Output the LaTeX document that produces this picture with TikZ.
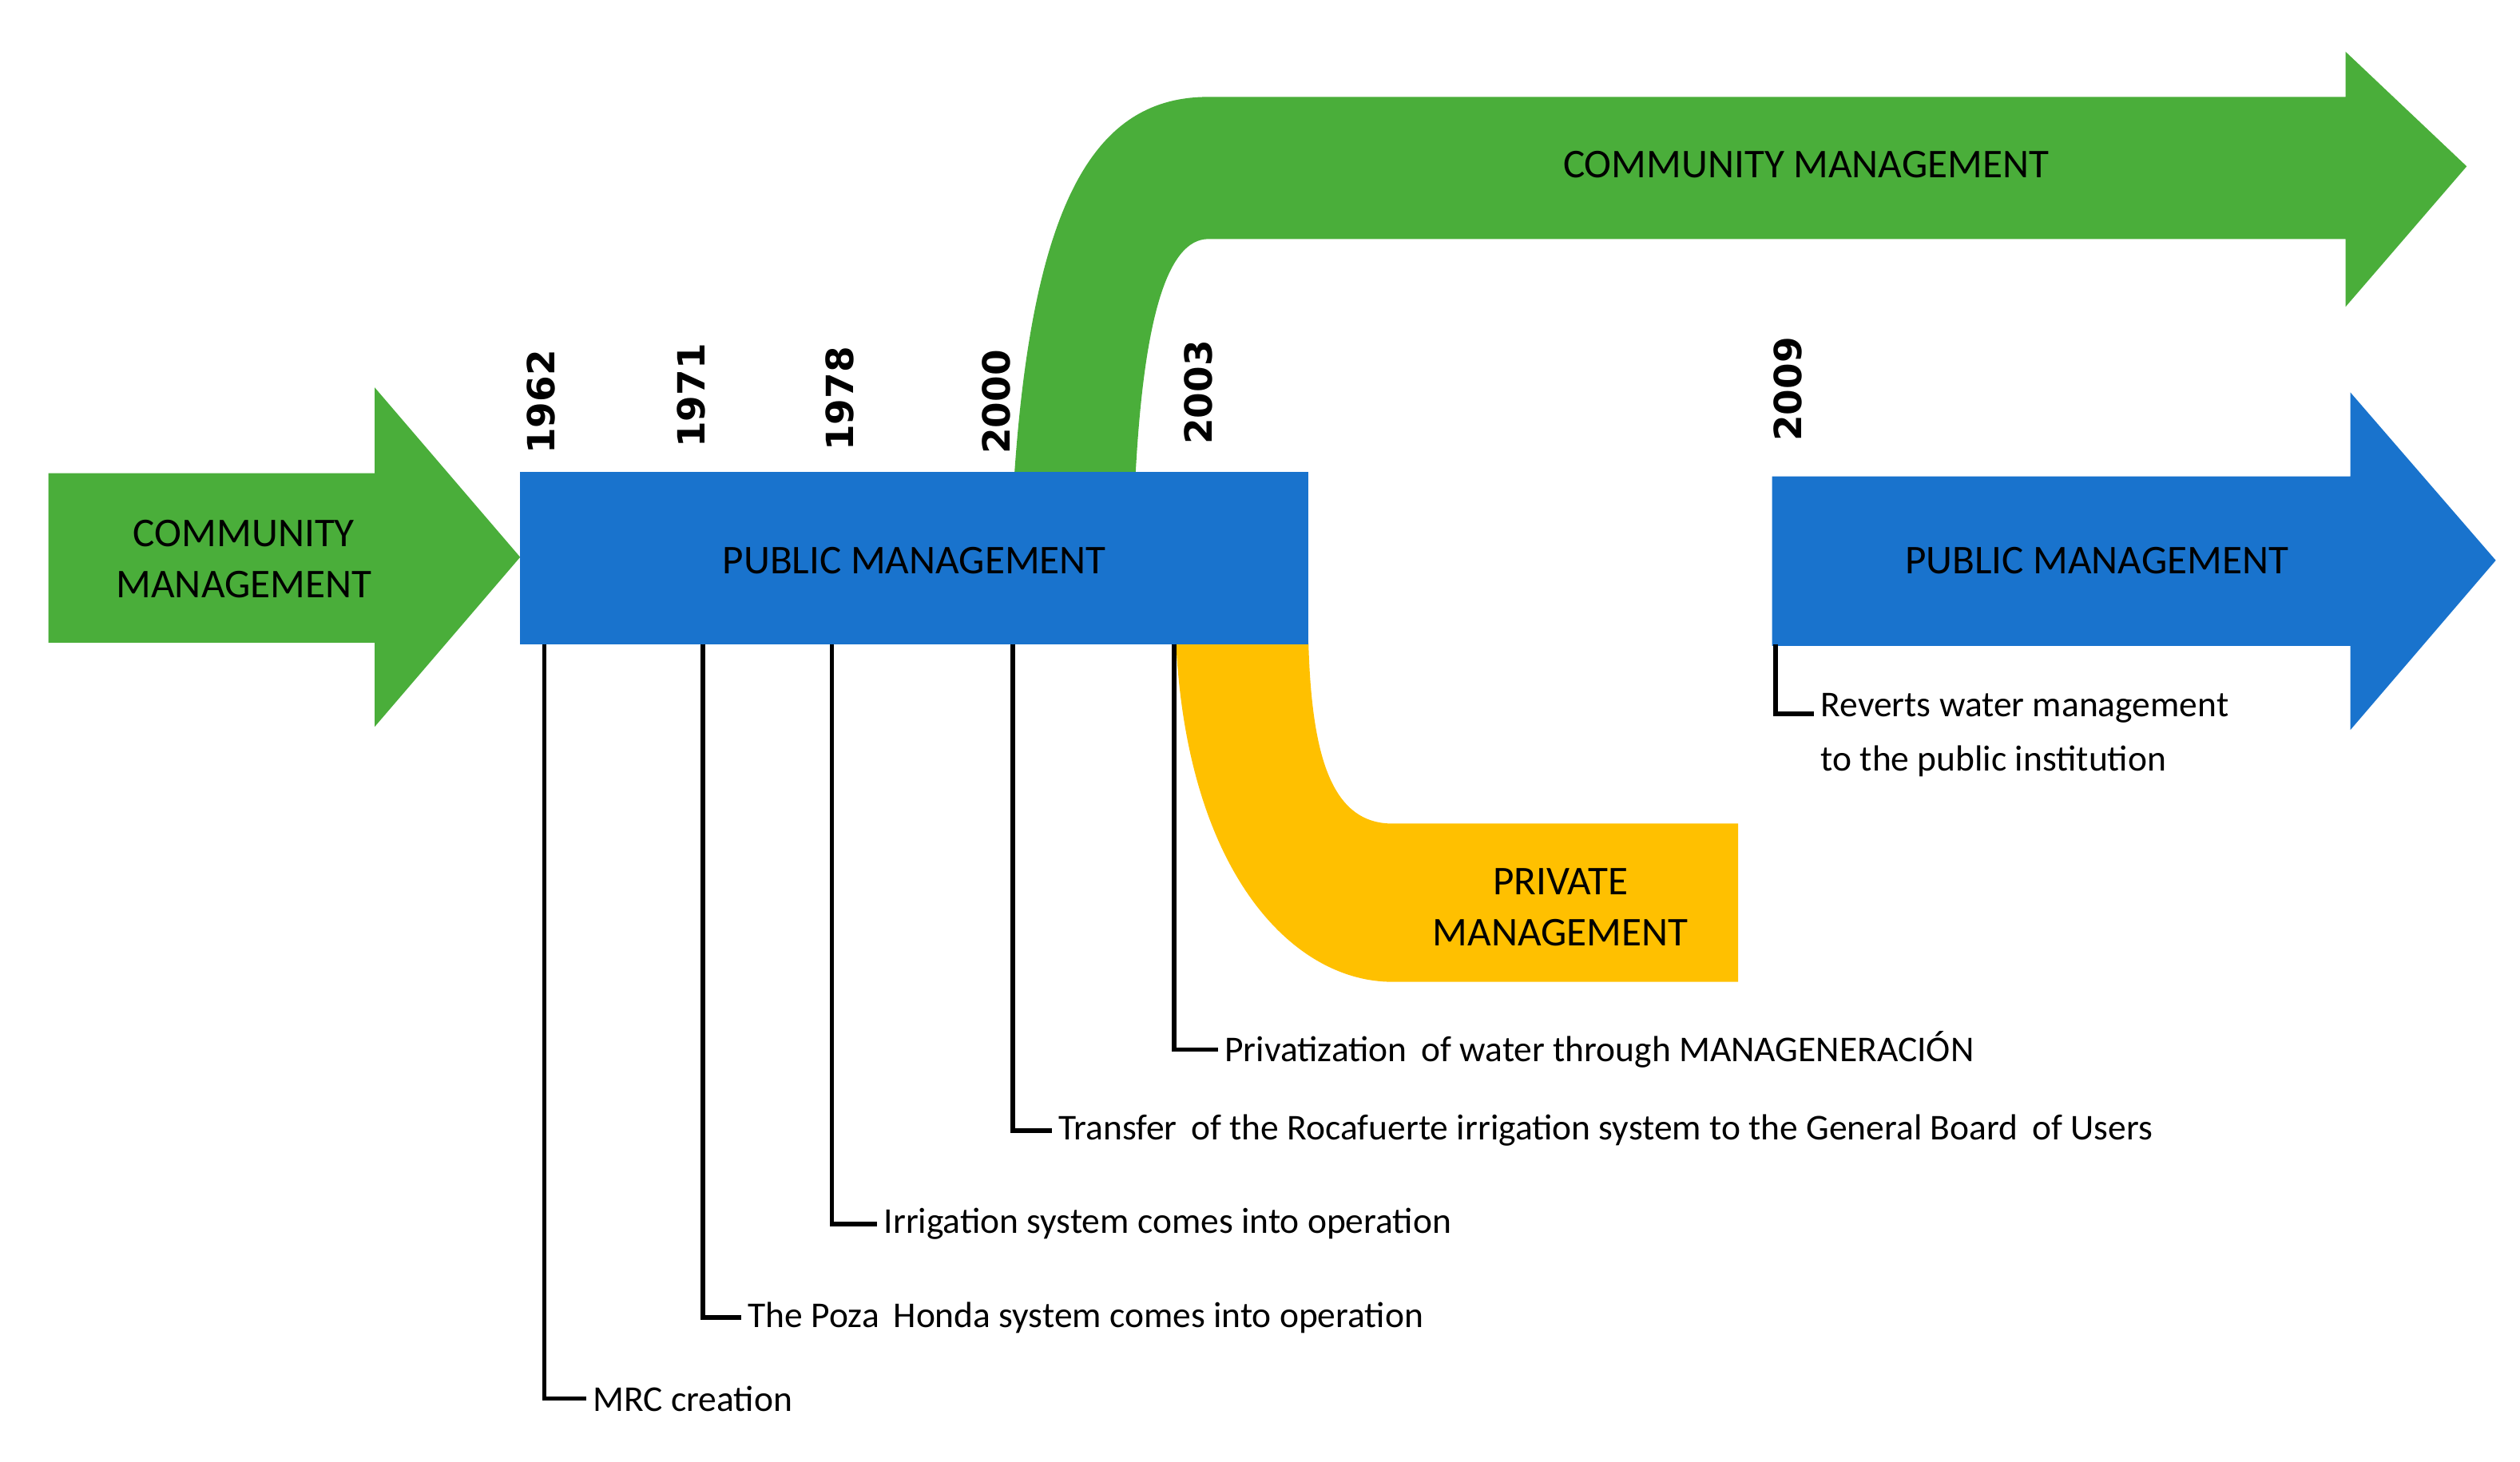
\documentclass[tikz,border=0pt]{standalone}
\usepackage{fontspec}
\setmainfont{Carlito}
\newfontfamily\yearfont{DejaVu Sans}
\definecolor{cgreen}{RGB}{74,174,58}
\definecolor{cblue}{RGB}{25,115,205}
\definecolor{cyellow}{RGB}{255,192,0}
\begin{document}
\begin{tikzpicture}[x=0.1mm,y=-0.1mm,
  boxtxt/.style={font=\fontsize{7.2}{9}\selectfont,align=center,text=black},
  lbl/.style={font=\fontsize{6.4}{9.6}\selectfont,anchor=west,inner sep=1pt,align=left},
  yr/.style={font=\yearfont\bfseries\fontsize{6.6}{8}\selectfont,rotate=90,anchor=west,inner sep=0pt},
  tick/.style={draw=black,line width=0.8pt}]
\useasboundingbox (0,0) rectangle (1560,905);
% left green arrow
\fill[cgreen] (30,293) -- (232,293) -- (232,240) -- (322,345) -- (232,450) -- (232,398) -- (30,398) -- cycle;
\node[boxtxt] (cm1) at (151,346) {COMMUNITY\\MANAGEMENT};
% upper green curved arrow
\fill[cgreen] (628,293) .. controls (640,120) and (680,60) .. (748,60) -- (1452,60) -- (1452,32) -- (1527,103) -- (1452,190) -- (1452,148) -- (748,148) .. controls (722,148) and (708,200) .. (703,293) -- cycle;
\node[boxtxt] (cm2) at (1118,102) {COMMUNITY MANAGEMENT};
% yellow
\fill[cyellow] (728,398) .. controls (735,540) and (800,608) .. (862,608) -- (1076,608) -- (1076,510) -- (862,510) .. controls (825,510) and (812,470) .. (810,398) -- cycle;
\node[boxtxt] (pm) at (966,562) {PRIVATE\\MANAGEMENT};
% blue rect
\fill[cblue] (322,292) rectangle (810,399);
\node[boxtxt] (pub1) at (566,347) {PUBLIC MANAGEMENT};
% right blue arrow
\fill[cblue] (1097,295) -- (1455,295) -- (1455,243) -- (1545,347) -- (1455,452) -- (1455,400) -- (1097,400) -- cycle;
\node[boxtxt] (pub2) at (1298,347) {PUBLIC MANAGEMENT};
% years
\node[yr] (y1) at (335,282) {1962};
\node[yr] (y2) at (428,278) {1971};
\node[yr] (y3) at (520,280) {1978};
\node[yr] (y4) at (617,282) {2000};
\node[yr] (y5) at (742,276) {2003};
\node[yr] (y6) at (1107,274) {2009};
% tick lines
\coordinate (t1) at (337,399); \coordinate (t2) at (435,399); \coordinate (t3) at (515,399);
\coordinate (t4) at (627,399); \coordinate (t5) at (727,399); \coordinate (t6) at (1099,399);
\node[lbl] (l1) at (363,866) {MRC creation};
\node[lbl] (l2) at (459,816) {The Poza\, Honda system comes into operation};
\node[lbl] (l3) at (543,758) {Irrigation system comes into operation};
\node[lbl] (l4) at (651,700) {Transfer\, of the Rocafuerte irrigation system to the General Board\, of Users};
\node[lbl] (l5) at (754,650) {Privatization\, of water through MANAGENERACIÓN};
\node[lbl,anchor=north west] (l6) at (1123,425) {Reverts water management\\to the public institution};
\draw[tick] (t1) |- (l1.west);
\draw[tick] (t2) |- (l2.west);
\draw[tick] (t3) |- (l3.west);
\draw[tick] (t4) |- (l4.west);
\draw[tick] (t5) |- (l5.west);
\draw[tick] (t6) |- (l6.west |- 0,442);
\end{tikzpicture}
\end{document}
